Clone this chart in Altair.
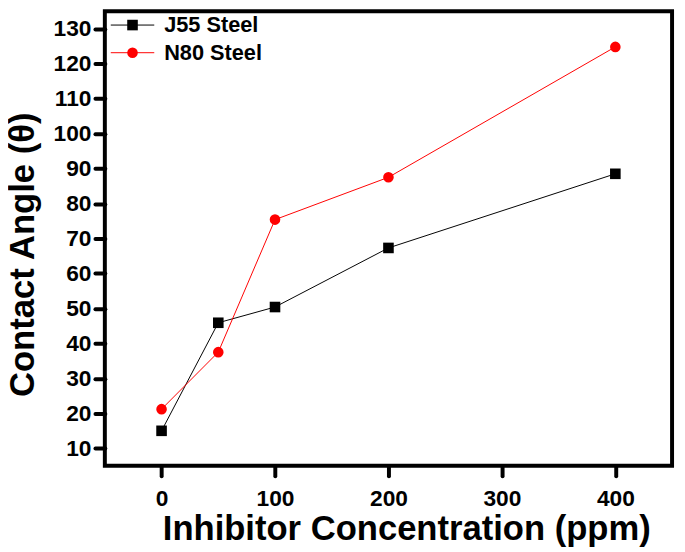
import altair as alt
import pandas as pd

conc = [0, 50, 100, 200, 400]
j55 = [15.0, 45.9, 50.4, 67.3, 88.5]
n80 = [21.2, 37.5, 75.4, 87.5, 124.8]
series = ["J55 Steel", "N80 Steel"]
colors = ["#000000", "#FF0000"]
shapes = ["square", "circle"]

rows = []
for c, a, b in zip(conc, j55, n80):
    rows.append({"conc": c, "angle": a, "series": series[0]})
    rows.append({"conc": c, "angle": b, "series": series[1]})
df = pd.DataFrame(rows)

FONT = "Liberation Sans"

x = alt.X("conc:Q", scale=alt.Scale(domain=[-50, 450], nice=False, zero=False),
          axis=alt.Axis(values=[0, 100, 200, 300, 400], title="Inhibitor Concentration (ppm)",
                        titleX=305, titleAnchor="middle"))
y = alt.Y("angle:Q", scale=alt.Scale(domain=[5, 135], nice=False, zero=False),
          axis=alt.Axis(values=list(range(10, 140, 10)), title="Contact Angle (θ)",
                        titleY=246, titleX=-65, titleAnchor="middle"))
color = alt.Color("series:N", scale=alt.Scale(domain=series, range=colors), legend=None)
shape = alt.Shape("series:N", scale=alt.Scale(domain=series, range=shapes), legend=None)

lines = alt.Chart(df).mark_line(strokeWidth=1).encode(x=x, y=y, color=color, detail="series:N")
points = alt.Chart(df).mark_point(filled=True, size=115, opacity=1).encode(
    x=x, y=y, color=color, shape=shape)

leg = pd.DataFrame({"series": series})
legend_layers = []
for i, (name, col, shp) in enumerate(zip(series, colors, shapes)):
    base = alt.Chart(leg).transform_filter(alt.datum.series == name)
    ypx = 14 + 28 * i
    legend_layers.append(base.mark_rule(strokeWidth=1, color=col).encode(
        x=alt.value(6), x2=alt.value(50), y=alt.value(ypx)))
    legend_layers.append(base.mark_point(filled=True, size=115, opacity=1, color=col, shape=shp).encode(
        x=alt.value(28), y=alt.value(ypx)))
    legend_layers.append(base.mark_text(align="left", baseline="middle", font=FONT, fontWeight="bold",
                                        fontSize=22, color="black").encode(
        x=alt.value(60), y=alt.value(ypx), text="series:N"))

chart = alt.layer(lines, points, *legend_layers).properties(
    width=574, height=460, autosize=alt.AutoSizeParams(type="none"),
    padding={"left": 98, "top": 0, "right": 5, "bottom": 84}
).configure_view(stroke="black", strokeWidth=4).configure_axis(
    grid=False, domain=False, tickColor="black", tickWidth=4, tickSize=10, tickCap="round",
    labelFont=FONT, labelFontWeight="bold", labelFontSize=23, labelColor="black",
    titleFont=FONT, titleFontWeight="bold", titleFontSize=35, titleColor="black"
).configure_axisX(labelPadding=12, titlePadding=2).configure_axisY(labelPadding=4, titlePadding=6)

chart.save("out.html", embed_options={"renderer": "svg", "actions": False})
